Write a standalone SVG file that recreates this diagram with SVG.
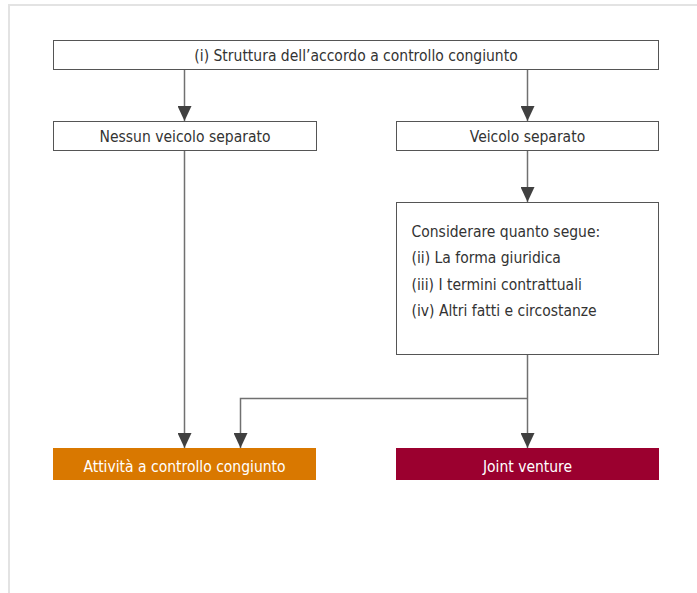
<svg xmlns="http://www.w3.org/2000/svg" width="697" height="593" viewBox="0 0 697 593">
<style>
text{font-family:"DejaVu Sans Condensed","DejaVu Sans",sans-serif;font-stretch:condensed;font-size:15.5px;fill:#333}
.box{fill:#fff;stroke:#555;stroke-width:1}
.ln{fill:none;stroke:#707070;stroke-width:1.5}
.w{fill:#fff}
</style>
<defs>
<marker id="ah" markerUnits="userSpaceOnUse" markerWidth="15" markerHeight="14" refX="15" refY="7" orient="auto" viewBox="0 0 15 14">
<path d="M0,0 L15,7 L0,14 Z" fill="#404040"/>
</marker>
</defs>
<rect x="0" y="0" width="697" height="593" fill="#fff"/>
<rect x="9" y="5" width="700" height="600" fill="#fff" stroke="#e3e3e3" stroke-width="2"/>
<g id="connectors">
<path class="ln" d="M184.5,69 V121" marker-end="url(#ah)"/>
<path class="ln" d="M527.5,69 V121" marker-end="url(#ah)"/>
<path class="ln" d="M527.5,151 V202" marker-end="url(#ah)"/>
<path class="ln" d="M184.5,151 V448" marker-end="url(#ah)"/>
<path class="ln" d="M527.5,354 V448" marker-end="url(#ah)"/>
<path class="ln" d="M527.5,398.5 H240.5 V448" marker-end="url(#ah)"/>
</g>
<g id="n1">
<rect class="box" x="53.5" y="40.5" width="605" height="29"/>
<text x="356" y="61" text-anchor="middle">(i) Struttura dell’accordo a controllo congiunto</text>
</g>
<g id="n2">
<rect class="box" x="53.5" y="121.5" width="263" height="29"/>
<text x="185" y="142" text-anchor="middle">Nessun veicolo separato</text>
</g>
<g id="n3">
<rect class="box" x="396.5" y="121.5" width="262" height="29"/>
<text x="527.5" y="142" text-anchor="middle">Veicolo separato</text>
</g>
<g id="n4">
<rect class="box" x="396.5" y="202.5" width="262" height="152"/>
<text x="411.5" y="236.5">Considerare quanto segue:</text>
<text x="411.5" y="263">(ii) La forma giuridica</text>
<text x="411.5" y="289.5">(iii) I termini contrattuali</text>
<text x="411.5" y="316">(iv) Altri fatti e circostanze</text>
</g>
<g id="n5">
<rect x="53" y="448" width="263" height="32" fill="#D97800"/>
<text class="w" x="184.5" y="471.5" text-anchor="middle">Attività a controllo congiunto</text>
</g>
<g id="n6">
<rect x="396" y="448" width="263" height="32" fill="#9B002F"/>
<text class="w" x="527.5" y="471.5" text-anchor="middle">Joint venture</text>
</g>
</svg>
